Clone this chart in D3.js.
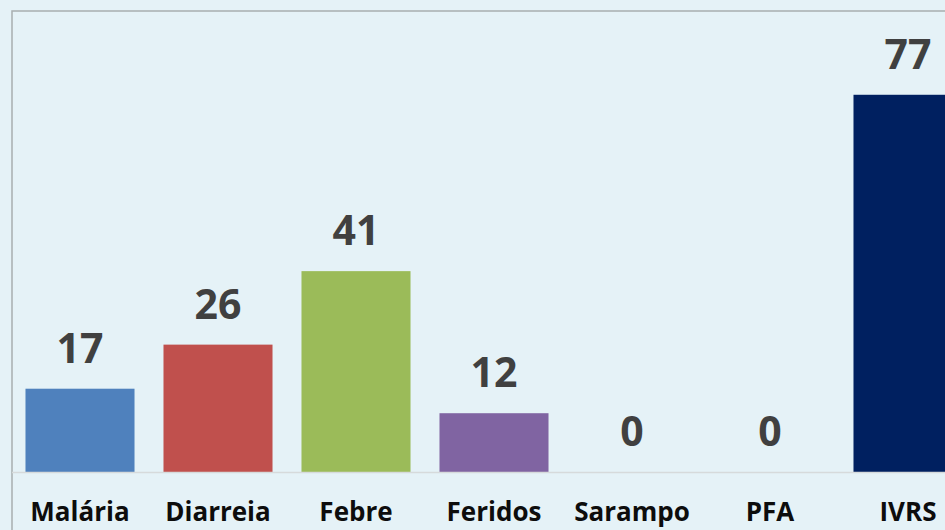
<!DOCTYPE html>
<html>
<head>
<meta charset="utf-8">
<script src="https://cdn.jsdelivr.net/npm/d3@7"></script>
<style>
  html, body { margin: 0; padding: 0; background: #e5f2f7; overflow: hidden; }
  svg { display: block; }
  .value-label { font-family: "Open Sans", sans-serif; font-weight: 700; font-size: 41px; fill: #404040; }
  .cat-label { font-family: "Open Sans", sans-serif; font-weight: 700; font-size: 26px; fill: #0d0d0d; }
</style>
</head>
<body>
<svg id="chart"></svg>
<script>
const width = 945;
const height = 530;

const categories = ["Malária", "Diarreia", "Febre", "Feridos", "Sarampo", "PFA", "IVRS"];
const values = [17, 26, 41, 12, 0, 0, 77];
const colors = ["#4f81bd", "#c0504d", "#9bbb59", "#8064a2", "#4bacc6", "#f79646", "#002060"];

const data = categories.map((c, i) => ({ name: c, value: values[i], color: colors[i] }));

const svg = d3.select("#chart").attr("width", width).attr("height", height);

const plot = { left: 12, top: 11, bottom: 472 };

// plot frame (runs off the right and bottom edge)
svg.append("rect")
  .attr("x", plot.left)
  .attr("y", plot.top)
  .attr("width", width + 50)
  .attr("height", height + 50)
  .attr("fill", "none")
  .attr("stroke", "#a8aeb0")
  .attr("stroke-width", 1.5);

const xScale = d3.scaleBand()
  .domain(categories)
  .range([11, 11 + 7 * 138])
  .paddingInner(0.21)
  .paddingOuter(0.105);

const yScale = d3.scaleLinear()
  .domain([0, 94.1])
  .range([plot.bottom, plot.top]);

// bars
svg.selectAll("rect.bar")
  .data(data)
  .enter()
  .append("rect")
  .attr("class", "bar")
  .attr("x", d => xScale(d.name))
  .attr("y", d => yScale(d.value))
  .attr("width", xScale.bandwidth())
  .attr("height", d => yScale(0) - yScale(d.value))
  .attr("fill", d => d.color);

// baseline
svg.append("line")
  .attr("x1", plot.left)
  .attr("x2", width)
  .attr("y1", yScale(0) + 0.5)
  .attr("y2", yScale(0) + 0.5)
  .attr("stroke", "#d6dadb")
  .attr("stroke-width", 1.5);

// value labels
svg.selectAll("text.value-label")
  .data(data)
  .enter()
  .append("text")
  .attr("class", "value-label")
  .attr("x", d => xScale(d.name) + xScale.bandwidth() / 2)
  .attr("y", d => yScale(d.value) - 26)
  .attr("text-anchor", "middle")
  .text(d => d.value);

// category labels
svg.selectAll("text.cat-label")
  .data(data)
  .enter()
  .append("text")
  .attr("class", "cat-label")
  .attr("x", d => xScale(d.name) + xScale.bandwidth() / 2)
  .attr("y", 521)
  .attr("text-anchor", "middle")
  .text(d => d.name);
</script>
</body>
</html>
